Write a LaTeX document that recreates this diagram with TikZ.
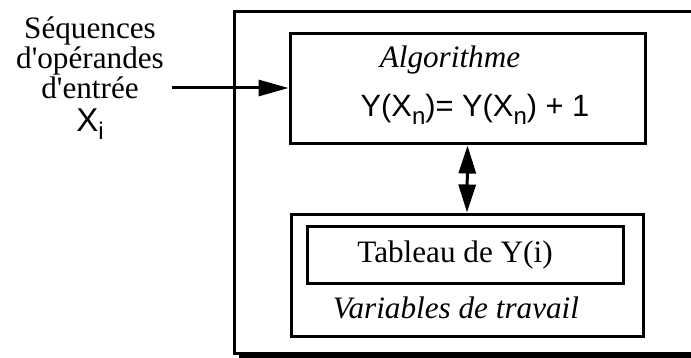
\documentclass[tikz,border=0pt]{standalone}
\usepackage{fontspec}
\setmainfont{Liberation Serif}
\setsansfont{Liberation Sans}
\usetikzlibrary{arrows.meta,positioning}
\newcommand{\indice}[1]{\raisebox{-0.45ex}{\fontsize{12}{12}\selectfont #1}}
\tikzset{
        boite/.style={draw, line width=1.5pt, inner sep=0pt},
        fleche/.style={line width=1.5pt, -{Triangle[length=15pt,width=8pt]}},
        double fleche/.style={line width=1.5pt, {Triangle[length=14pt,width=8.5pt]}-{Triangle[length=14pt,width=8.5pt]}},
        texte/.style={font=\fontsize{15.6}{15}\selectfont, inner sep=0pt},
    }

\begin{document}
\begin{tikzpicture}[x = 0.5pt, y = -0.5pt]
                \useasboundingbox (0,0) rectangle (691,358);
                % cadre exterieur avec ombre
                \path[fill=black] (239,17) rectangle (705,358);
                \path[fill=white, draw, line width=1.5pt] (234,12) rectangle (700,353);
                % boites
                \node[boite, minimum width=177.5pt, minimum height=55pt] (algo) at (467.5,89) {};
                \node[boite, minimum width=176pt, minimum height=61pt] (travail) at (467,275) {};
                \node[boite, minimum width=158pt, minimum height=28.5pt] (tableau) at (465,254.5) {};
                % textes
                \node[texte, anchor=base] (titre) at (450,68) {\itshape Algorithme};
                \node[texte, anchor=base, font=\sffamily\fontsize{15.4}{15}\selectfont] (formule) at (475,117)
                    {Y(X\indice{n})= Y(X\indice{n}) + 1};
                \node[texte, anchor=base] (ytab) at (455,262) {Tableau de Y(i)};
                \node[texte, anchor=base] (var) at (456,318) {\itshape Variables de travail};
                \node[texte, anchor=base, align=center] (entree) at (90,132)
                    {Séquences\\d\textquotesingle opérandes\\d\textquotesingle entrée\\[1.5pt]{\sffamily\fontsize{16.5}{15}\selectfont X\indice{i}}};
                % connecteurs
                \coordinate (depart) at (172,88);
                \draw[fleche] (depart) -- (algo.west |- depart);
                \draw[double fleche] (algo.south) -- (travail.north);
            \end{tikzpicture}
\end{document}
